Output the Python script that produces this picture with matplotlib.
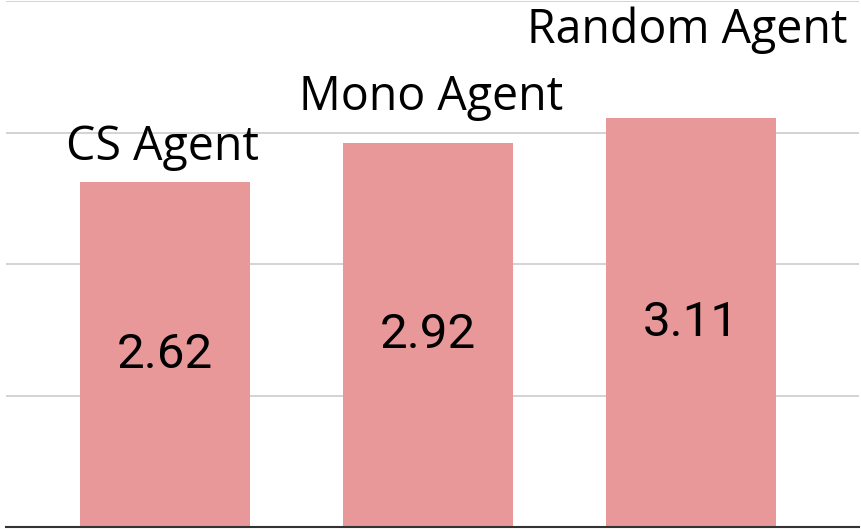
import matplotlib
matplotlib.use("Agg")
import matplotlib.pyplot as plt

categories = ["CS Agent", "Mono Agent", "Random Agent"]
values = [2.62, 2.92, 3.11]
value_labels = ["2.62", "2.92", "3.11"]

# layout (label placement, in data units)
label_x_shift = [-0.008, 0.013, -0.013]
label_y = [2.79, 3.17, 3.68]

W, H = 861, 529
fig = plt.figure(figsize=(W / 100, H / 100), dpi=100)
ax = fig.add_axes([6 / W, 2 / H, (859 - 6) / W, (528 - 2) / H])

x = list(range(len(categories)))
ax.bar(x, values, width=0.646, color="#E99899", zorder=2)
ax.set_xlim(-0.605, 2.639)
ax.set_ylim(0, 4.0)
ax.set_yticks([1, 2, 3, 4])
ax.yaxis.grid(True, color="#CCCCCC", linewidth=1.2, zorder=0)
ax.tick_params(left=False, bottom=False, labelleft=False, labelbottom=False)
for s in ["left", "right", "top"]:
    ax.spines[s].set_visible(False)
ax.spines["bottom"].set_color("#333333")
ax.spines["bottom"].set_linewidth(1.5)
ax.spines["bottom"].set_zorder(3)

for i, (v, vl) in enumerate(zip(values, value_labels)):
    ax.text(i, v / 2, vl, ha="center", va="center", fontsize=35.5,
            family="Roboto", color="black", zorder=4)
    ax.text(i + label_x_shift[i], label_y[i], categories[i], ha="center",
            va="baseline", fontsize=33.5, family="Open Sans", color="black",
            zorder=4)

fig.savefig("out.png", dpi=100)
